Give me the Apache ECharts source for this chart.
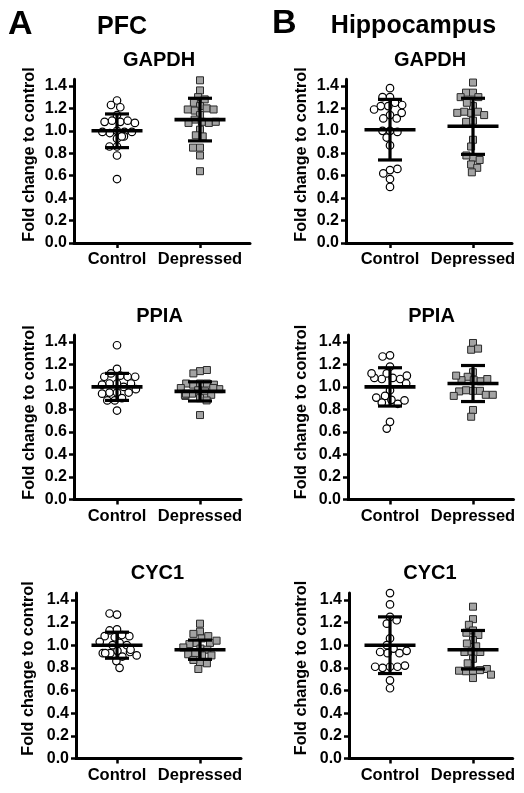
<!DOCTYPE html>
<html><head><meta charset="utf-8">
<script src="https://cdn.jsdelivr.net/npm/echarts@6/dist/echarts.min.js"></script>
<style>html,body{margin:0;padding:0;background:#fff}#c{width:524px;height:793px}</style>
</head><body><div id="c"></div>
<script>
// ---------- data ----------
const categories = ['Control', 'Depressed'];
const yTickValues = [0, 0.2, 0.4, 0.6, 0.8, 1.0, 1.2, 1.4];
const regionLetters = ['A', 'B'];
const regionNames = ['PFC', 'Hippocampus'];
const geneNames = ['GAPDH', 'PPIA', 'CYC1'];
const yAxisTitle = 'Fold change to control';

const pfcGapdhControl = [1.27, 1.23, 1.21, 1.14, 1.09, 1.08, 1.09, 1.08, 1.07, 1.00, 0.98, 0.99, 0.99, 0.99, 0.95, 0.93, 0.95, 0.86, 0.86, 0.78, 0.57];
const pfcGapdhDepressed = [1.45, 1.36, 1.30, 1.28, 1.25, 1.22, 1.20, 1.18, 1.19, 1.19, 1.14, 1.10, 1.08, 1.07, 1.07, 1.08, 1.01, 0.96, 0.95, 0.85, 0.85, 0.78, 0.64];
const pfcGapdhMean = [1.00, 1.10];
const pfcGapdhSD = [0.15, 0.19];

const hipGapdhControl = [1.38, 1.30, 1.30, 1.25, 1.22, 1.22, 1.23, 1.19, 1.14, 1.11, 1.11, 1.16, 1.00, 1.00, 0.99, 0.94, 0.87, 0.65, 0.62, 0.66, 0.57, 0.50];
const hipGapdhDepressed = [1.43, 1.34, 1.34, 1.30, 1.30, 1.22, 1.25, 1.16, 1.17, 1.17, 1.14, 1.16, 1.09, 1.08, 0.92, 0.86, 0.76, 0.70, 0.74, 0.78, 0.67, 0.63];
const hipGapdhMean = [1.01, 1.04];
const hipGapdhSD = [0.27, 0.25];

const pfcPpiaControl = [1.37, 1.16, 1.12, 1.10, 1.09, 1.09, 1.09, 1.03, 1.03, 1.03, 1.02, 1.00, 0.98, 0.95, 0.95, 0.95, 0.94, 0.90, 0.88, 0.88, 0.79];
const pfcPpiaDepressed = [1.14, 1.12, 1.15, 1.03, 1.02, 1.03, 1.03, 1.02, 0.99, 0.98, 0.99, 0.97, 0.96, 0.94, 0.93, 0.92, 0.93, 0.94, 0.90, 0.88, 0.75];
const pfcPpiaMean = [1.00, 0.96];
const pfcPpiaSD = [0.12, 0.085];

const hipPpiaControl = [1.28, 1.27, 1.18, 1.12, 1.08, 1.07, 1.07, 1.08, 1.10, 1.12, 1.03, 0.97, 0.92, 0.885, 0.86, 0.85, 0.88, 0.905, 0.69, 0.63];
const hipPpiaDepressed = [1.39, 1.33, 1.34, 1.13, 1.09, 1.06, 1.05, 1.06, 1.07, 1.10, 0.965, 0.97, 0.965, 0.96, 0.93, 0.92, 0.93, 0.795, 0.735];
const hipPpiaMean = [1.00, 1.03];
const hipPpiaSD = [0.17, 0.16];

const pfcCyc1Control = [1.27, 1.28, 1.14, 1.13, 1.09, 1.07, 1.08, 1.08, 1.02, 1.00, 1.00, 1.03, 0.95, 0.93, 0.94, 0.93, 0.93, 0.96, 0.91, 0.90, 0.86, 0.80];
const pfcCyc1Depressed = [1.19, 1.12, 1.10, 1.06, 1.08, 1.02, 1.02, 1.01, 1.04, 0.97, 0.96, 0.98, 0.93, 0.91, 0.91, 0.92, 0.85, 0.87, 0.84, 0.79];
const pfcCyc1Mean = [1.00, 0.96];
const pfcCyc1SD = [0.115, 0.085];

const hipCyc1Control = [1.46, 1.47, 1.36, 1.25, 1.19, 1.22, 1.06, 1.00, 0.97, 0.93, 0.93, 0.94, 0.95, 0.81, 0.80, 0.81, 0.81, 0.82, 0.69, 0.62];
const hipCyc1Depressed = [1.34, 1.23, 1.18, 1.13, 1.11, 1.09, 1.045, 1.015, 0.99, 0.945, 0.94, 0.94, 0.88, 0.84, 0.775, 0.77, 0.78, 0.775, 0.79, 0.71, 0.74];
const hipCyc1Mean = [1.00, 0.96];
const hipCyc1SD = [0.25, 0.17];

// panels: [row, col] -> data
const panels = [
  { row: 0, col: 0, control: pfcGapdhControl, depressed: pfcGapdhDepressed, mean: pfcGapdhMean, sd: pfcGapdhSD },
  { row: 0, col: 1, control: hipGapdhControl, depressed: hipGapdhDepressed, mean: hipGapdhMean, sd: hipGapdhSD },
  { row: 1, col: 0, control: pfcPpiaControl, depressed: pfcPpiaDepressed, mean: pfcPpiaMean, sd: pfcPpiaSD },
  { row: 1, col: 1, control: hipPpiaControl, depressed: hipPpiaDepressed, mean: hipPpiaMean, sd: hipPpiaSD },
  { row: 2, col: 0, control: pfcCyc1Control, depressed: pfcCyc1Depressed, mean: pfcCyc1Mean, sd: pfcCyc1SD },
  { row: 2, col: 1, control: hipCyc1Control, depressed: hipCyc1Depressed, mean: hipCyc1Mean, sd: hipCyc1SD }
];

// ---------- layout ----------
const FONT = '"Liberation Sans", Arial, Helvetica, sans-serif';
const Y_MAX = 1.46;
// frame: left, right, bottom(y of 0), px per unit ; cat0 centre x
const frames = [
  { l: 74,  r: 250,   b: 243,   ppu: 112.2, c0: 117 },
  { l: 346, r: 512,   b: 243,   ppu: 112.2, c0: 390 },
  { l: 74,  r: 241,   b: 499.5, ppu: 112.6, c0: 117 },
  { l: 348, r: 513.5, b: 499.5, ppu: 112.6, c0: 390 },
  { l: 76,  r: 241,   b: 758.5, ppu: 113.3, c0: 117 },
  { l: 349, r: 512.7, b: 758.5, ppu: 113.3, c0: 390 }
];
const BAND = 83;
const geneTitlePos = [[159, 60], [430, 60], [159.5, 316.5], [431.5, 316], [157.5, 573.5], [430, 573]];
const yTitlePos = [[29.5, 154.5], [301.5, 154.5], [30, 412.5], [302, 412], [28.5, 668.5], [302, 668]];

const grid = [], xAxis = [], yAxis = [], series = [], graphic = [];

panels.forEach((p, i) => {
  const f = frames[i];
  const H = Y_MAX * f.ppu;
  const top = f.b - H;
  const gFrame = i * 2, gData = i * 2 + 1;
  grid.push({ left: f.l, top: top, width: f.r - f.l, height: H });
  grid.push({ left: f.c0 - BAND / 2, top: top, width: BAND * 2, height: H });

  // frame axes
  xAxis.push({
    gridIndex: gFrame, type: 'value', min: 0, max: 1,
    axisLine: { show: true, onZero: false, lineStyle: { color: '#000', width: 3 } },
    axisTick: { show: false }, axisLabel: { show: false }, splitLine: { show: false }
  });
  yAxis.push({
    gridIndex: gFrame, type: 'value', min: 0, max: Y_MAX,
    axisLine: { show: true, onZero: false, lineStyle: { color: '#000', width: 3 } },
    axisTick: { show: true, customValues: yTickValues, length: 5, lineStyle: { color: '#000', width: 2.5 } },
    axisLabel: {
      show: true, customValues: yTickValues, margin: 7,
      formatter: v => v.toFixed(1),
      color: '#000', fontFamily: FONT, fontWeight: 'bold', fontSize: 16
    },
    splitLine: { show: false }
  });
  // data axes
  xAxis.push({
    gridIndex: gData, type: 'category', data: categories, boundaryGap: true,
    jitter: 40, jitterOverlap: false, jitterMargin: 0,
    axisLine: { show: false },
    axisTick: { show: true, alignWithLabel: true, length: 5, lineStyle: { color: '#000', width: 2.5 } },
    axisLabel: { color: '#000', fontFamily: FONT, fontWeight: 'bold', fontSize: 16.5, margin: 8, interval: 0 },
    splitLine: { show: false }
  });
  yAxis.push({ gridIndex: gData, type: 'value', min: 0, max: Y_MAX, show: false });

  series.push({
    type: 'scatter', xAxisIndex: gData, yAxisIndex: gData,
    symbol: 'circle', symbolSize: 7.5,
    itemStyle: { color: '#fff', borderColor: '#000', borderWidth: 1.2, opacity: 1 },
    data: p.control.map(v => [0, v]), z: 2, silent: true
  });
  series.push({
    type: 'scatter', xAxisIndex: gData, yAxisIndex: gData,
    symbol: 'rect', symbolSize: 7,
    itemStyle: { color: '#a3a3a3', borderColor: '#2a2a2a', borderWidth: 1, opacity: 1 },
    data: p.depressed.map(v => [1, v]), z: 2, silent: true
  });
  series.push({
    type: 'custom', xAxisIndex: gData, yAxisIndex: gData, z: 5, silent: true,
    data: categories.map((c, k) => [k, p.mean[k], p.sd[k]]),
    renderItem: (params, api) => {
      const x = api.value(0), m = api.value(1), s = api.value(2);
      const c = api.coord([x, m]);
      const t = api.coord([x, m + s]);
      const b = api.coord([x, m - s]);
      const mh = 25.5, ch = 12;
      const st = { stroke: '#000', lineWidth: 3.2 };
      return {
        type: 'group', children: [
          { type: 'line', shape: { x1: c[0] - mh, y1: c[1], x2: c[0] + mh, y2: c[1] }, style: { stroke: '#000', lineWidth: 3.6 } },
          { type: 'line', shape: { x1: t[0], y1: t[1], x2: b[0], y2: b[1] }, style: st },
          { type: 'line', shape: { x1: t[0] - ch, y1: t[1], x2: t[0] + ch, y2: t[1] }, style: st },
          { type: 'line', shape: { x1: b[0] - ch, y1: b[1], x2: b[0] + ch, y2: b[1] }, style: st }
        ]
      };
    }
  });

  graphic.push({
    type: 'text', x: geneTitlePos[i][0], y: geneTitlePos[i][1],
    style: { text: geneNames[p.row], font: 'bold 20px ' + FONT, fill: '#000', textAlign: 'center', textVerticalAlign: 'middle' }
  });
  graphic.push({
    type: 'text', x: yTitlePos[i][0], y: yTitlePos[i][1], rotation: Math.PI / 2,
    style: { text: yAxisTitle, font: 'bold 16.2px ' + FONT, fill: '#000', textAlign: 'center', textVerticalAlign: 'middle' }
  });
});

// region headers
graphic.push({ type: 'text', x: 8, y: 25, style: { text: regionLetters[0], font: 'bold 34px ' + FONT, fill: '#000', textAlign: 'left', textVerticalAlign: 'middle' } });
graphic.push({ type: 'text', x: 122, y: 27.5, style: { text: regionNames[0], font: 'bold 25px ' + FONT, fill: '#000', textAlign: 'center', textVerticalAlign: 'middle' } });
graphic.push({ type: 'text', x: 272, y: 24, style: { text: regionLetters[1], font: 'bold 34px ' + FONT, fill: '#000', textAlign: 'left', textVerticalAlign: 'middle' } });
graphic.push({ type: 'text', x: 413.5, y: 26, style: { text: regionNames[1], font: 'bold 25px ' + FONT, fill: '#000', textAlign: 'center', textVerticalAlign: 'middle' } });

const chart = echarts.init(document.getElementById('c'), null, { renderer: 'canvas' });
chart.setOption({
  animation: false,
  backgroundColor: '#fff',
  grid, xAxis, yAxis, series, graphic
});
</script>
</body></html>
